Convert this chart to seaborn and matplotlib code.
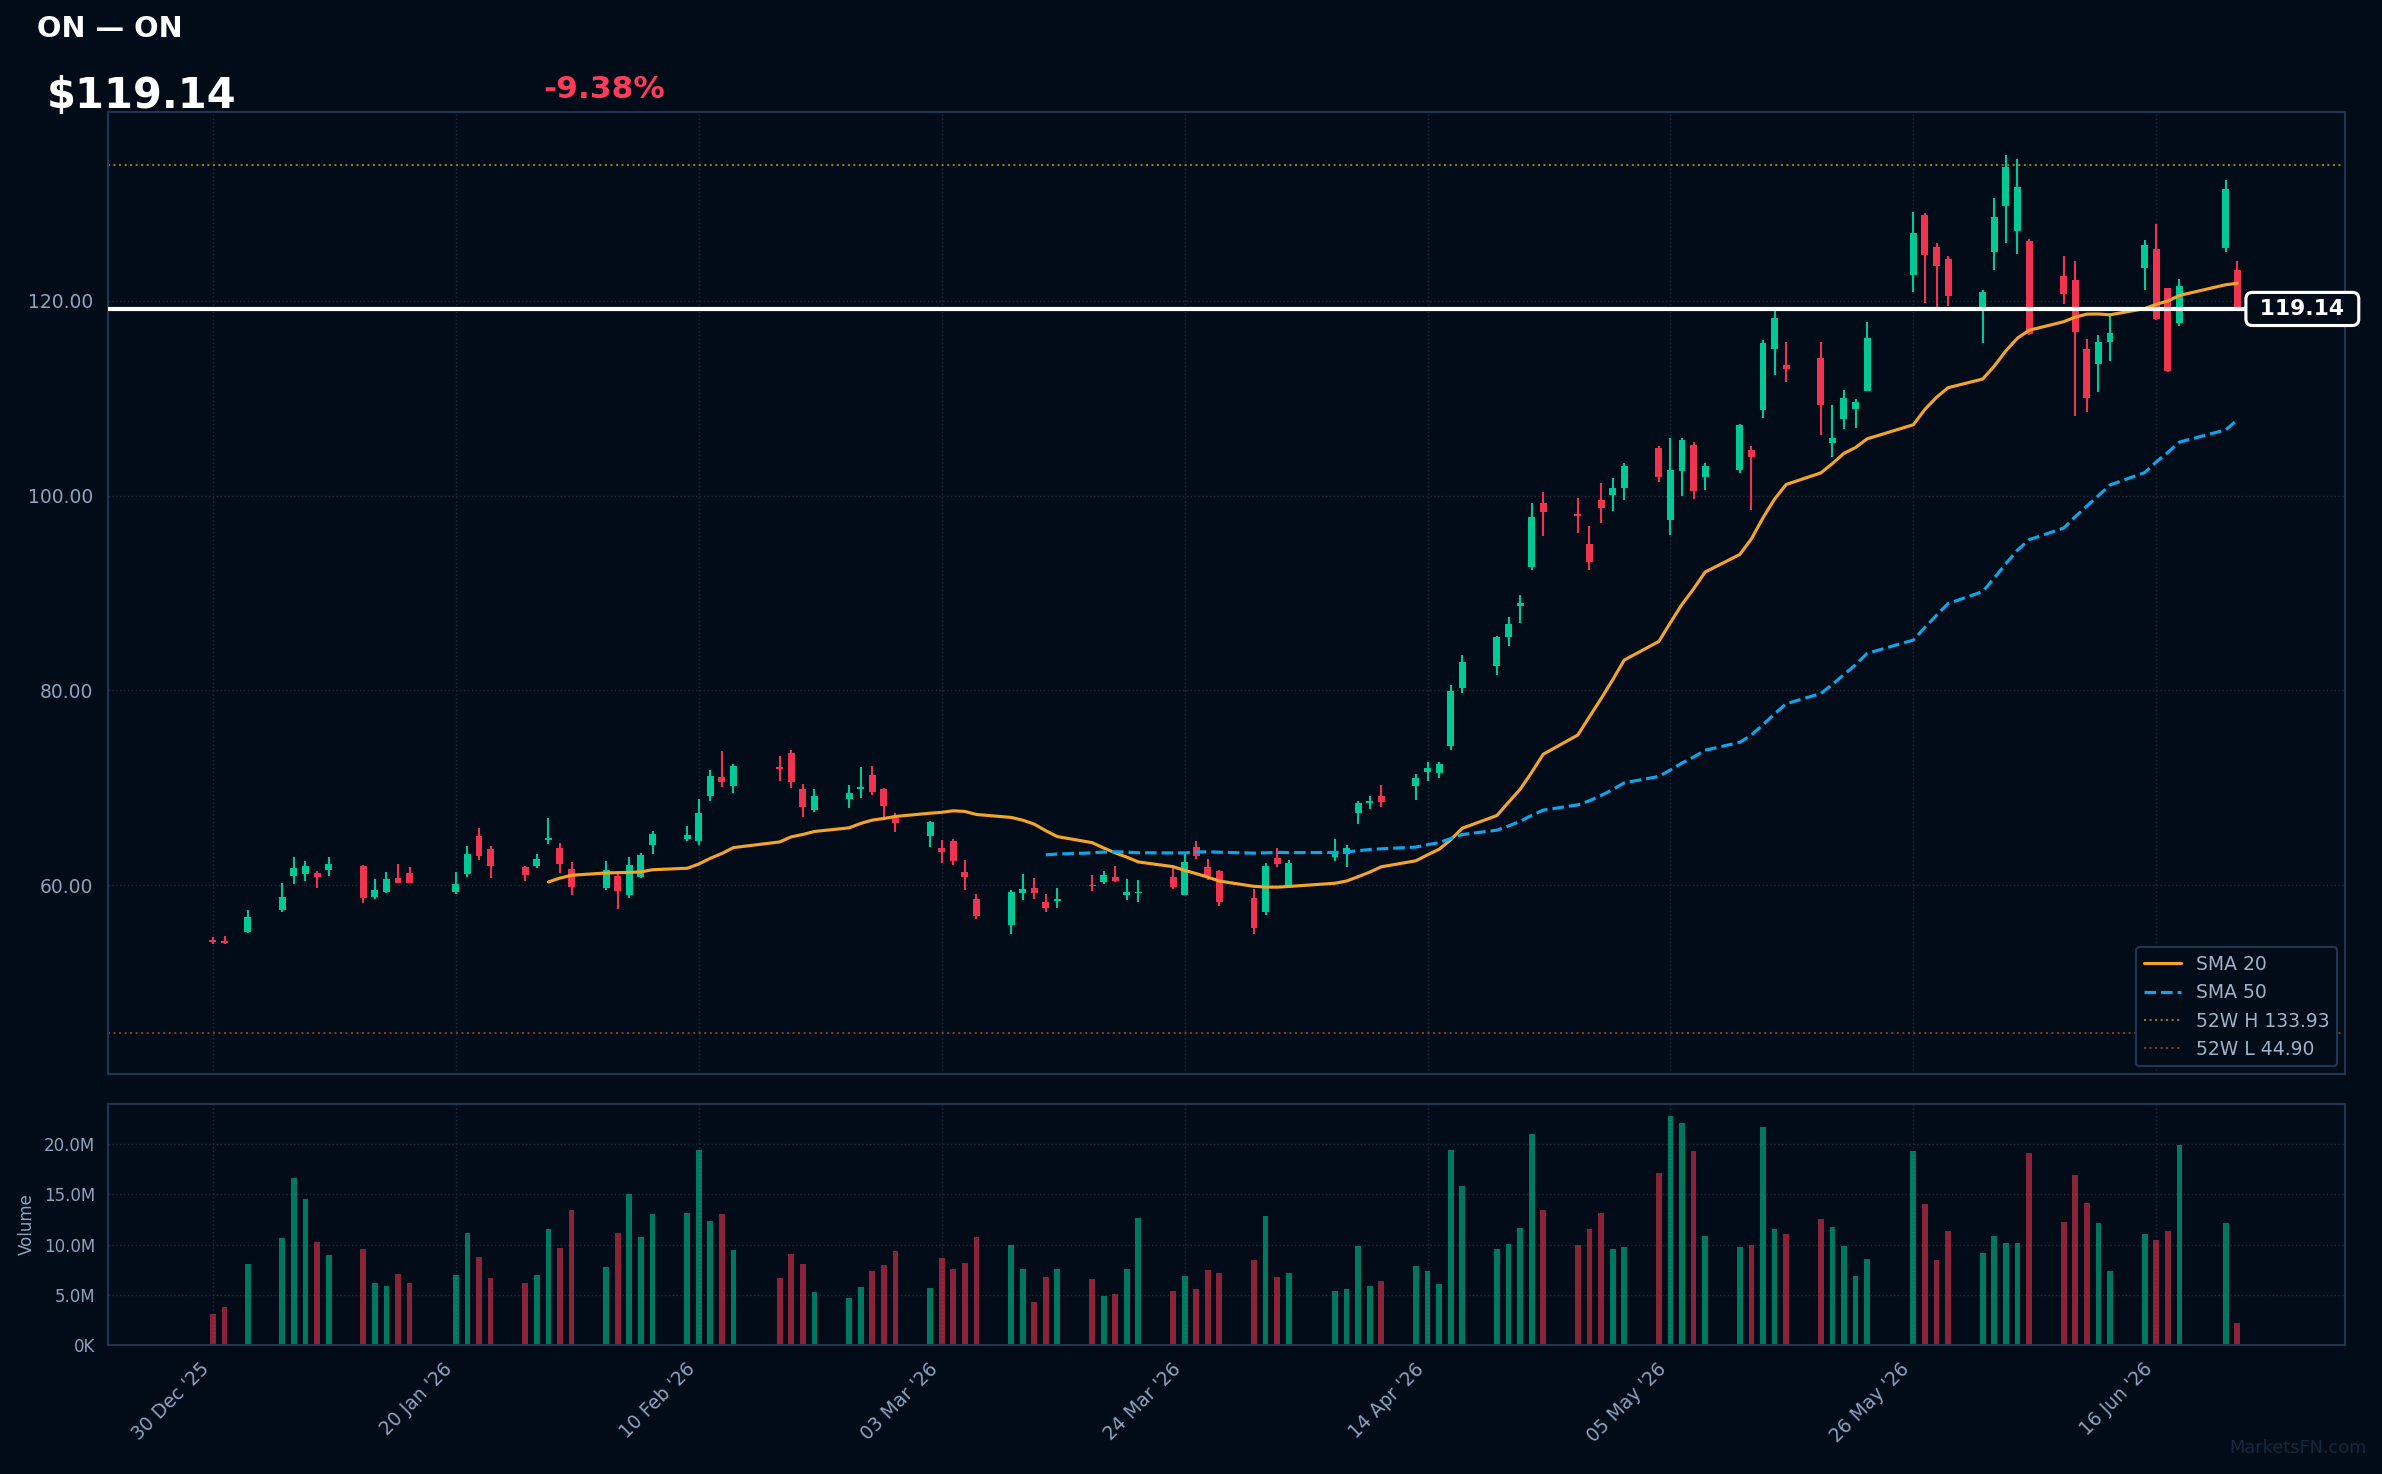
# ==========================================
# ON - CANDLESTICK CHART WITH SMA + VOLUME
# ==========================================

import numpy as np
import pandas as pd
import matplotlib
matplotlib.use("Agg")
import matplotlib.pyplot as plt
import matplotlib.dates as mdates
import matplotlib.ticker as mticker
from matplotlib.lines import Line2D
import seaborn as sns

# ==========================================
# DATA
# ==========================================

ticker = "ON"
last_price = 119.14
change_pct = -9.38
high_52w = 133.93
low_52w = 44.90

holidays = ["2026-01-01", "2026-01-19", "2026-02-16",
            "2026-04-03", "2026-05-25", "2026-06-19"]
dates = pd.bdate_range("2025-12-30", "2026-06-23", freq="C", holidays=holidays)

opens = [
    # Dec / Jan
    54.35, 54.3, 55.2, 57.5, 60.95, 61.15, 61.25, 61.55, 62.0, 58.8, 59.3,
    60.75, 61.25, 59.3, 61.15, 65.05, 63.7, 61.85, 62.0, 64.7, 63.8, 61.65,
    # Feb
    59.7, 60.95, 59.0, 60.85, 64.15, 64.8, 64.6, 69.15, 71.1, 70.2, 72.15,
    73.55, 69.9, 67.7, 68.85, 69.9, 71.3, 69.9, 66.9,
    # Mar
    65.05, 63.85, 64.55, 61.35, 58.6, 55.9, 59.2, 59.7, 58.25, 58.35, 60.0,
    60.35, 60.85, 59.05, 59.2, 60.85, 59.0, 63.9, 61.9, 61.45, 58.7, 57.25,
    # Apr
    62.8, 59.8, 62.95, 63.25, 67.4, 68.5, 69.15, 70.2, 71.6, 71.5, 74.3,
    80.2, 82.55, 85.5, 88.7, 92.65, 99.2, 98.1, 95.0, 99.5, 100.05,
    # May
    100.75, 104.85, 97.5, 102.5, 105.15, 101.9, 102.65, 104.7, 108.8, 115.0,
    113.4, 114.1, 105.4, 107.9, 108.9, 110.75, 122.65, 128.8, 125.45, 124.25,
    # Jun
    119.3, 124.95, 129.75, 127.15, 126.1, 122.5, 122.1, 115.0, 113.45, 115.7,
    123.3, 125.25, 121.25, 117.65, 125.35, 123.1,
]
highs = [
    54.7, 54.8, 57.5, 60.2, 62.9, 62.5, 61.45, 62.9, 62.1, 60.65, 61.35,
    62.2, 61.9, 61.35, 64.0, 65.9, 64.0, 62.0, 63.2, 66.95, 64.3, 62.4,
    62.5, 61.35, 62.9, 63.35, 65.6, 66.1, 68.9, 71.8, 73.75, 72.45, 73.25,
    73.9, 70.4, 69.9, 70.3, 72.15, 72.25, 70.0, 67.4,
    66.6, 64.65, 64.75, 62.6, 59.1, 59.5, 61.15, 60.75, 59.1, 59.7, 61.05,
    61.45, 62.0, 60.65, 60.55, 61.9, 63.2, 64.55, 62.7, 61.55, 59.6, 62.3,
    63.8, 62.6, 64.75, 64.15, 68.65, 69.15, 70.3, 71.4, 72.65, 72.65, 80.6,
    83.6, 85.6, 87.55, 89.75, 99.2, 100.35, 99.75, 96.85, 101.3, 101.8,
    103.3, 105.05, 105.9, 105.95, 105.5, 103.3, 107.3, 105.05, 116.0, 118.9,
    115.8, 115.7, 109.25, 110.8, 109.9, 117.85, 129.05, 128.95, 125.9, 124.55,
    121.05, 130.5, 134.9, 134.5, 126.3, 124.55, 124.05, 116.05, 116.45, 118.75,
    126.2, 127.85, 121.3, 122.2, 132.35, 124.05,
]
lows = [
    54.0, 54.0, 55.1, 57.3, 60.1, 60.45, 59.7, 60.95, 58.2, 58.6, 59.2,
    60.2, 60.2, 59.1, 60.85, 62.6, 60.75, 60.45, 61.75, 64.2, 61.25, 59.0,
    59.5, 57.6, 58.7, 60.8, 63.2, 64.6, 64.15, 68.65, 70.1, 69.5, 70.7,
    70.0, 67.0, 67.5, 67.95, 68.95, 69.25, 67.0, 65.45,
    63.95, 62.3, 62.1, 59.5, 56.55, 55.0, 58.5, 58.6, 57.3, 57.65, 59.45,
    60.15, 60.35, 58.5, 58.3, 59.6, 59.0, 62.7, 60.55, 57.9, 55.0, 56.95,
    61.9, 59.8, 62.55, 61.85, 66.3, 67.8, 68.0, 68.75, 70.7, 71.0, 73.9,
    79.7, 81.55, 84.6, 86.95, 92.4, 95.85, 96.2, 92.35, 97.2, 98.4,
    99.5, 101.35, 95.95, 99.95, 99.65, 100.55, 102.35, 98.55, 108.0, 112.35,
    111.65, 106.2, 103.95, 106.85, 106.95, 110.7, 120.85, 119.8, 119.3, 119.4,
    115.6, 123.1, 125.9, 124.75, 116.5, 119.6, 108.15, 108.55, 110.6, 113.75,
    121.05, 118.0, 112.7, 117.35, 124.95, 118.9,
]
closes = [
    54.2, 54.1, 56.75, 58.8, 61.75, 61.95, 60.85, 62.2, 58.7, 59.5, 60.65,
    60.25, 60.25, 60.15, 63.2, 63.0, 62.0, 61.05, 62.7, 64.9, 62.2, 59.85,
    61.55, 59.4, 62.1, 63.15, 65.3, 65.2, 67.4, 71.2, 70.6, 72.25, 71.95,
    70.6, 68.05, 69.15, 69.45, 70.1, 69.55, 68.15, 66.4,
    66.5, 63.4, 62.5, 60.85, 56.85, 59.3, 59.6, 59.2, 57.65, 58.55, 59.9,
    61.05, 60.45, 59.3, 59.3, 59.8, 62.4, 63.0, 60.95, 58.3, 55.65, 62.0,
    62.2, 62.3, 63.45, 63.85, 68.45, 68.6, 68.55, 71.0, 72.05, 72.45, 79.9,
    82.95, 85.5, 86.85, 88.95, 97.75, 98.3, 97.9, 93.2, 98.75, 100.75,
    103.0, 101.85, 102.6, 105.65, 100.45, 103.05, 107.2, 104.0, 115.6, 118.25,
    113.0, 109.3, 105.95, 110.05, 109.55, 116.15, 126.9, 124.7, 123.5, 120.45,
    120.85, 128.55, 133.75, 131.7, 116.55, 120.65, 116.75, 110.0, 115.8, 116.65,
    125.75, 118.1, 112.75, 121.45, 131.47, 119.14,
]
volumes_m = [
    3.06, 3.75, 8.04, 10.63, 16.61, 14.52, 10.23, 8.94, 9.53, 6.15, 5.85,
    7.04, 6.15, 6.94, 11.13, 8.74, 6.64, 6.15, 6.94, 11.53, 9.63, 13.42,
    7.74, 11.13, 15.02, 10.73, 13.02, 13.12, 19.40, 12.33, 13.02, 9.44, 6.64,
    9.04, 8.04, 5.25, 4.65, 5.75, 7.34, 7.94, 9.34,
    5.65, 8.64, 7.54, 8.14, 10.73, 9.93, 7.54, 4.25, 6.74, 7.54, 6.54,
    4.85, 5.05, 7.54, 12.62, 5.35, 6.84, 5.55, 7.44, 7.14, 8.44, 12.82,
    6.74, 7.14, 5.35, 5.55, 9.83, 5.85, 6.35, 7.84, 7.34, 6.05, 19.40,
    15.81, 9.53, 10.03, 11.63, 21.0, 13.42, 9.93, 11.53, 13.12, 9.53,
    9.73, 17.11, 22.79, 22.09, 19.30, 10.83, 9.73, 9.93, 21.69, 11.53,
    11.03, 12.52, 11.73, 9.83, 6.84, 8.54, 19.30, 14.02, 8.44, 11.33,
    9.14, 10.83, 10.13, 10.13, 19.10, 12.23, 16.91, 14.12, 12.13, 7.34,
    11.03, 10.43, 11.33, 19.90, 12.13, 2.16,
]

tick_dates = pd.date_range("2025-12-30", periods=9, freq="21D")

# ==========================================
# BUILD FRAME
# ==========================================

df = pd.DataFrame({
    "date": dates,
    "open": opens,
    "high": highs,
    "low": lows,
    "close": closes,
    "volume": np.array(volumes_m) * 1e6,
})
df["sma20"] = df["close"].rolling(20).mean()
df["sma50"] = df["close"].rolling(50).mean()
df["x"] = mdates.date2num(df["date"])
df["up"] = df["close"] >= df["open"]

# ==========================================
# STYLE
# ==========================================

BG = "#020c18"
GREEN = "#00c896"
RED = "#f03450"
ORANGE = "#f5a524"
BLUE = "#0ea5e9"
SPINE = "#1e3652"
GRID = "#1a2a3c"
TXT = "#8ea3bd"

sns.set_style("dark", {"axes.facecolor": BG, "figure.facecolor": BG})
plt.rcParams["font.family"] = ["DejaVu Sans"]

fig = plt.figure(figsize=(2382 / 150, 1474 / 150), dpi=150, facecolor=BG)
ax = fig.add_axes([0.0453, 0.2714, 0.9391, 0.6523])
axv = fig.add_axes([0.0453, 0.0875, 0.9391, 0.1635], sharex=ax)

colors = np.where(df["up"], GREEN, RED)

# ==========================================
# PRICE PANEL
# ==========================================

ax.vlines(df["x"], df["low"], df["high"], colors=colors, lw=1.0, zorder=3)
body_low = np.minimum(df["open"], df["close"])
body_h = np.maximum((df["close"] - df["open"]).abs(), 0.15)
ax.bar(df["x"], body_h, bottom=body_low, width=0.6, color=colors,
       linewidth=0, zorder=4)

sns.lineplot(x=df["x"], y=df["sma20"], ax=ax, color=ORANGE, lw=1.5, zorder=5)
sns.lineplot(x=df["x"], y=df["sma50"], ax=ax, color=BLUE, lw=1.5,
             linestyle="--", zorder=5)

ax.axhline(high_52w, color="#857a22", lw=1.0, ls=":", zorder=2)
ax.axhline(low_52w, color="#7d3a2c", lw=1.0, ls=":", zorder=2)
ax.axhline(last_price, color="white", lw=2.0, zorder=6)

ax.text(0.981, last_price, f" {last_price:.2f} ", transform=ax.get_yaxis_transform(),
        ha="center", va="center", color="white", fontsize=10.5, fontweight="bold",
        clip_on=False, zorder=10,
        bbox=dict(boxstyle="round,pad=0.3", fc=BG, ec="white", lw=1.5))

ax.set_ylim(40.65, 139.3)
ax.set_yticks([60, 80, 100, 120])
ax.yaxis.set_major_formatter(mticker.FormatStrFormatter("%.2f"))
x0 = mdates.date2num(pd.Timestamp("2025-12-30"))
ax.set_xlim(x0 - 9.08, x0 + 184.3)
ax.set_xlabel("")
ax.set_ylabel("")

handles = [
    Line2D([], [], color=ORANGE, lw=1.5, label="SMA 20"),
    Line2D([], [], color=BLUE, lw=1.5, ls="--", label="SMA 50"),
    Line2D([], [], color="#857a22", lw=1.0, ls=":", label=f"52W H {high_52w:.2f}"),
    Line2D([], [], color="#7d3a2c", lw=1.0, ls=":", label=f"52W L {low_52w:.2f}"),
]
leg = ax.legend(handles=handles, loc="lower right", fontsize=9, frameon=True,
                facecolor=BG, edgecolor=SPINE, labelcolor="#9fb3c8",
                framealpha=1.0, borderaxespad=0.4)
leg.get_frame().set_linewidth(1.0)

# ==========================================
# VOLUME PANEL
# ==========================================

axv.bar(df["x"], df["volume"], width=0.5, color=colors, alpha=0.58, linewidth=0)
axv.set_ylim(0, 24e6)
axv.set_yticks([0, 5e6, 10e6, 15e6, 20e6])


def vol_fmt(v, pos):
    if v >= 1e6:
        return f"{v / 1e6:.1f}M"
    return f"{v / 1e3:.0f}K"


axv.yaxis.set_major_formatter(mticker.FuncFormatter(vol_fmt))
axv.set_ylabel("Volume", color=TXT, fontsize=8)
axv.xaxis.set_major_locator(mticker.FixedLocator(mdates.date2num(tick_dates)))
axv.xaxis.set_major_formatter(mdates.DateFormatter("%d %b '%y"))
axv.set_xlabel("")

# ==========================================
# AXES COSMETICS
# ==========================================

for a in (ax, axv):
    a.set_facecolor(BG)
    for s in a.spines.values():
        s.set_visible(True)
        s.set_color(SPINE)
        s.set_linewidth(1.0)
    a.grid(True, ls=":", color=GRID, lw=0.7)
    a.set_axisbelow(True)

ax.tick_params(axis="y", colors=TXT, labelsize=9, length=0, pad=7)
ax.tick_params(axis="x", labelbottom=False, length=0)
axv.tick_params(axis="y", colors=TXT, labelsize=8, length=3, pad=3)
axv.tick_params(axis="x", colors=TXT, labelsize=9, length=4, pad=3)
for lab in axv.get_xticklabels():
    lab.set_rotation(45)
    lab.set_ha("right")

# ==========================================
# HEADER
# ==========================================

fig.text(0.0154, 0.9747, f"{ticker} \u2014 {ticker}", color="white",
         fontsize=13.8, fontweight="bold", va="baseline")
fig.text(0.0197, 0.9267, f"${last_price:.2f}", color="white",
         fontsize=20, fontweight="bold", va="baseline")
fig.text(0.228, 0.9337, f"{change_pct:.2f}%", color="#ff3b5c",
         fontsize=15, fontweight="bold", va="baseline")
fig.text(0.9936, 0.0175, "MarketsFN.com", color="#17283c", fontsize=8.5,
         ha="right", va="center")

fig.savefig("out.png", dpi=150, facecolor=BG)
